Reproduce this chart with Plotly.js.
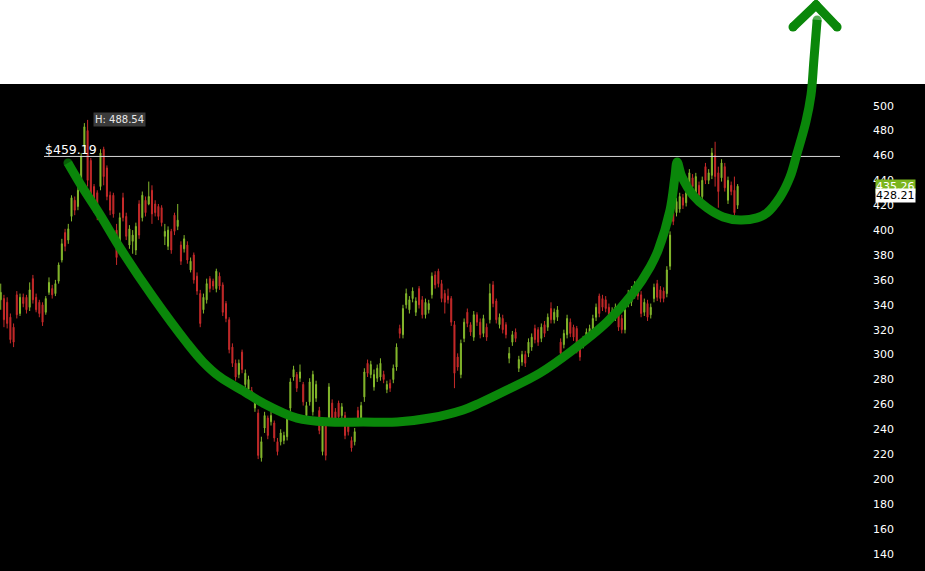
<!DOCTYPE html>
<html>
<head>
<meta charset="utf-8">
<script src="https://cdn.plot.ly/plotly-3.0.1.min.js"></script>
<style>
  html, body { margin: 0; padding: 0; background: #000; }
  #chart { width: 925px; height: 571px; }
</style>
</head>
<body>
<div id="chart"></div>
<script>
// Daily OHLC, oldest first
const open = [298,344,345,342,330,322,348,333,346,346,338,361,346,342,340,334,350,353,349,359,376,398,392,411,424,419,440,467,480,456,435,430,435,465,450,428,428,400,390,426,411,388,391,384,421,410,424,421,432,421,419,418,395,387,399,412,403,388,385,388,368,380,363,349,336,344,361,359,353,363,356,341,328,306,293,284,302,276,272,271,257,253,217,241,249,246,245,230,230,231,234,257,282,284,281,276,251,262,254,265,255,222,243,246,261,254,261,251,251,243,231,230,255,249,266,293,284,274,281,282,284,272,277,280,290,321,316,340,336,345,334,353,344,332,336,348,364,367,357,349,347,345,324,298,284,313,334,324,314,332,326,317,322,328,356,343,324,329,324,297,310,318,289,294,300,301,306,321,320,313,324,322,337,328,330,310,308,316,326,322,321,308,308,312,314,320,330,347,345,344,338,330,330,332,329,320,341,342,348,352,348,334,341,332,345,357,352,351,349,371,414,414,417,426,422,434,442,430,436,427,451,440,444,460,446,442,451,424,436,432,420];
const high = [325,357,348,346,333,325,351,349,349,348,358,364,349,344,342,347,362,356,360,374,393,401,405,428,427,436,462,486,488.54,458,437,432,465,467,452,431,430,405,414,430,414,404,400,406,424,431,427,439,436,424,421,420,405,403,401,414,421,391,396,391,378,382,366,352,349,361,363,361,369,366,358,343,330,309,296,296,304,288,283,274,265,256,234,254,251,254,247,233,240,238,252,281,291,286,292,278,262,281,287,279,258,246,246,277,264,257,263,261,254,245,234,241,258,262,289,296,295,288,292,297,287,279,280,292,309,324,340,353,347,354,346,355,347,345,344,366,367,369,360,352,353,347,327,301,312,329,337,326,335,334,329,332,325,357,359,345,333,332,326,306,319,321,299,303,303,313,317,324,322,325,327,333,342,337,339,313,320,332,329,324,323,310,315,321,324,332,341,349,348,347,341,338,341,335,332,339,352,355,359,355,351,345,344,341,357,360,355,354,371,399,418,426,430,429,433,449,445,446,439,443,454,449,466,471,451,457,454,443,439,443,437];
const low = [296,336,322,321,309,306,329,331,338,333,335,341,334,330,323,332,348,345,347,357,374,383,389,407,412,416,436,462,435,425,414,408,432,436,424,412,410,372,386,407,392,385,381,380,393,407,411,420,405,411,408,403,388,384,381,396,400,372,382,373,366,357,348,322,333,341,350,352,350,352,331,326,301,290,279,281,285,273,269,264,254,216,214,237,232,243,230,219,227,228,231,254,279,270,278,259,248,259,251,262,236,219,215,243,246,243,247,248,232,235,222,227,246,246,262,282,281,271,278,279,277,269,270,277,287,313,313,337,333,342,331,337,329,329,333,345,353,354,342,333,341,323,273,287,281,310,322,315,311,323,313,314,311,325,338,325,321,317,313,293,307,310,286,291,290,298,303,309,307,310,314,319,325,325,327,298,305,313,314,311,301,295,305,309,311,317,327,330,335,334,327,327,327,319,317,317,338,339,345,344,330,331,327,329,342,343,342,342,346,368,404,411,414,417,419,431,432,427,425,424,437,437,441,435,418,439,431,421,428,412,417];
const close = [321,350,328,325,312,310,332,346,341,336,352,344,336,333,326,345,358,348,357,372,389,387,401,426,416,432,459,483,440,428,419,411,462,443,427,416,413,378,410,410,395,401,396,403,396,428,414,427,413,414,411,406,399,400,384,399,408,375,393,376,375,360,351,325,346,357,353,355,367,355,334,329,304,293,282,293,288,285,280,267,262,219,230,251,235,251,233,222,237,235,249,278,288,273,286,262,259,278,284,276,239,243,219,274,249,246,250,258,235,238,225,238,249,259,286,285,292,284,289,293,280,276,273,289,306,317,337,349,344,351,343,340,332,342,341,363,356,357,345,342,344,326,285,290,309,326,325,318,332,326,316,329,314,349,341,328,330,320,316,301,316,313,296,300,293,310,314,312,310,322,317,330,328,334,336,301,317,329,317,314,304,298,312,318,321,329,338,333,338,337,330,335,338,322,320,336,349,352,356,347,333,342,330,338,354,346,345,345,368,396,407,423,427,420,430,446,435,443,428,440,440,446,462,443,431,454,434,440,431,414,435.26];

// Price axis labels
const yTicks = [140,160,180,200,220,240,260,280,300,320,340,360,380,400,420,440,460,480,500];

// Reference level, session high, last and previous prices
const levelPrice = 459.19;
const highPrice = 488.54;
const lastPrice = 435.26;
const prevPrice = 428.21;

// Hand-drawn cup & handle sketch (bar index, price)
const cupX = [21.9,26.5,31.9,38.1,48.3,58.9,63.9,69.1,76.9,82.5,93.1,103.3,113.6,124.2,134.4,144.7,149.9,158.3,168.6,178.8,189.4,197.5,202.8,205.3,209.0,210.5,211.2,212.7,216.1,220.5,225.5,230.7,236.0,239.1,243.2,246.3,248.5,251.2,252.8,253.7,254.7];
const cupY = [454.0,433.9,412.2,385.6,346.3,309.3,294.0,282.0,269.9,261.1,249.0,245.8,245.8,245.8,249.0,255.5,261.1,271.5,285.2,303.7,326.2,349.5,370.4,384.0,416.2,442.7,454.8,442.7,428.2,417.8,410.6,408.1,409.8,413.8,426.6,442.7,462.0,486.9,508.6,536.7,568.9];
const arrowX = [247.2,254.35,260.9];
const arrowY = [563.2,580.9,563.2];

const idx = close.map((_, i) => i);
const GREEN = '#84b82c', RED = '#c62a2a', PEN = '#0a870a';
const FONT = 'DejaVu Sans, Verdana, sans-serif';

// horizontal layout: bar 0 sits just left of the frame, bars advance ~3.2px
const barStep = 3.218, firstPx = -2.5, W = 925, H = 571, bandPx = 84;
const x0 = -firstPx / barStep;
const x1 = x0 + W / barStep;
const levelFrom = (44 - firstPx) / barStep;
const levelTo = (840 - firstPx) / barStep;

const penWidth = 9;
const endCaps = cupX.map((_, i) => (i === 0 || i === cupX.length - 1) ? penWidth : 0);

const traces = [
  {
    type: 'candlestick', x: idx, open: open, high: high, low: low, close: close,
    increasing: { line: { color: GREEN, width: 1 }, fillcolor: GREEN },
    decreasing: { line: { color: RED, width: 1 }, fillcolor: RED },
    whiskerwidth: 0, showlegend: false, hoverinfo: 'skip'
  },
  {
    type: 'scatter', mode: 'lines', x: [levelFrom, levelTo], y: [levelPrice, levelPrice],
    line: { color: '#d8d8d8', width: 1 }, showlegend: false, hoverinfo: 'skip'
  },
  {
    type: 'scatter', mode: 'lines+markers', x: cupX, y: cupY,
    line: { color: PEN, width: penWidth, shape: 'spline', smoothing: 1 },
    marker: { color: PEN, size: endCaps, line: { width: 0 } },
    showlegend: false, hoverinfo: 'skip', cliponaxis: false
  },
  {
    type: 'scatter', mode: 'lines+markers', x: arrowX, y: arrowY,
    line: { color: PEN, width: penWidth },
    marker: { color: PEN, size: penWidth, line: { width: 0 } },
    showlegend: false, hoverinfo: 'skip', cliponaxis: false
  }
];

const layout = {
  width: W, height: H,
  margin: { l: 0, r: 0, t: 0, b: 0 },
  paper_bgcolor: '#000', plot_bgcolor: 'rgba(0,0,0,0)',
  boxgap: 0.55,
  hovermode: false,
  xaxis: { range: [x0, x1], visible: false, rangeslider: { visible: false }, fixedrange: true },
  yaxis: {
    range: [126.1, 584.9], side: 'right', tickvals: yTicks,
    ticklabelposition: 'inside', ticklabelstandoff: 28, ticks: '',
    showgrid: false, zeroline: false, showline: false, fixedrange: true,
    tickfont: { family: FONT, size: 11, color: '#ffffff' }
  },
  shapes: [
    { type: 'rect', xref: 'paper', yref: 'paper', x0: 0, x1: 1, y0: 1 - bandPx / H, y1: 1,
      fillcolor: '#ffffff', line: { width: 0 }, layer: 'below' }
  ],
  annotations: [
    { x: levelFrom, y: levelPrice, xanchor: 'left', yanchor: 'bottom', showarrow: false,
      text: '$' + levelPrice.toFixed(2), borderpad: 0, yshift: -2,
      font: { family: FONT, size: 12.5, color: '#ffffff' } },
    { x: high.indexOf(highPrice), y: highPrice, xanchor: 'left', yanchor: 'middle', showarrow: false,
      text: 'H: ' + highPrice.toFixed(2), xshift: 5, bgcolor: '#3a3a3a', borderpad: 1,
      font: { family: FONT, size: 10, color: '#e8e8e8' } },
    { xref: 'paper', x: 875 / W, y: lastPrice, xanchor: 'left', yanchor: 'middle', showarrow: false,
      text: lastPrice.toFixed(2), bgcolor: '#7ab51d', borderpad: 0,
      font: { family: FONT, size: 11, color: '#ffffff' } },
    { xref: 'paper', x: 875 / W, y: prevPrice, xanchor: 'left', yanchor: 'middle', showarrow: false,
      text: prevPrice.toFixed(2), bgcolor: '#ffffff', borderpad: 0,
      font: { family: FONT, size: 11, color: '#000000' } }
  ]
};

Plotly.newPlot('chart', traces, layout, { displayModeBar: false, staticPlot: true });
</script>
</body>
</html>
